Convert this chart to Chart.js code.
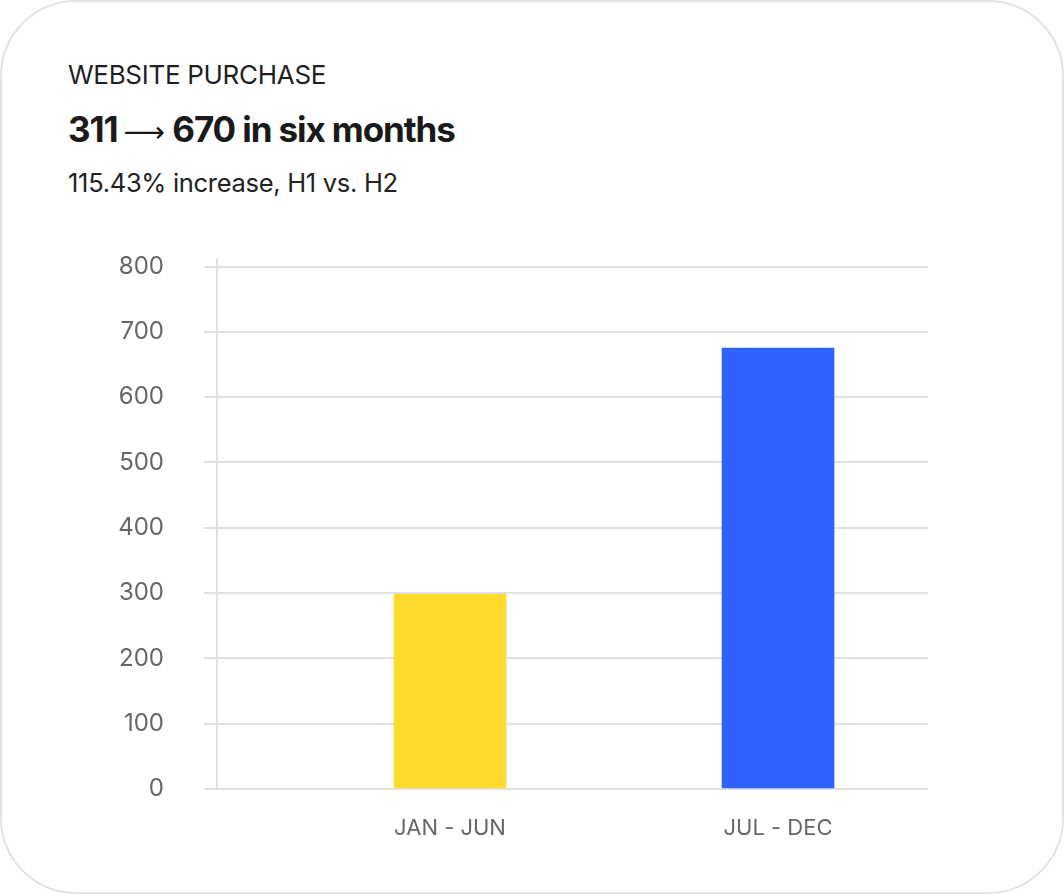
<!DOCTYPE html>
<html>
<head>
<meta charset="utf-8">
<script src="https://cdn.jsdelivr.net/npm/chart.js@4.4.0/dist/chart.umd.min.js"></script>
<style>
  html, body { margin: 0; padding: 0; background: #fff; }
  body { width: 1064px; height: 894px; position: relative; overflow: hidden; font-family: Inter, "Noto Sans", sans-serif; }
  .card { position: absolute; left: 0; top: 0; width: 1060px; height: 890px; border: 2px solid #e3e3e3; border-radius: 76px; }
  .kicker { position: absolute; left: 68px; top: 62px; font-size: 26px; line-height: 1; color: #1f1f1f; letter-spacing: -0.3px; }
  .headline { position: absolute; left: 68px; top: 112px; font-size: 35px; line-height: 1; font-weight: 700; color: #1a1a1a; letter-spacing: -1.1px; }
  .headline .arrow { font-family: "DejaVu Sans", sans-serif; font-weight: 400; font-size: 29px; letter-spacing: 0; margin-left: 6px; }
  .sub { position: absolute; left: 68px; top: 170px; font-size: 25.5px; line-height: 1; color: #222; letter-spacing: -0.3px; }
  #chart { position: absolute; left: 0; top: 0; }
</style>
</head>
<body>
<div class="card"></div>
<div class="kicker">WEBSITE PURCHASE</div>
<div class="headline">311<span class="arrow">⟶</span> 670 in six months</div>
<div class="sub">115.43% increase, H1 vs. H2</div>
<canvas id="chart" width="1064" height="894"></canvas>
<script>
const categories = ['JAN - JUN', 'JUL - DEC'];
const purchases = [298, 675];
const barColors = ['#FEDB2C', '#2F63FF'];
const yTicks = [0, 100, 200, 300, 400, 500, 600, 700, 800];

const gridColor = '#e0e0e0';
const tickColor = '#666666';

const ctx = document.getElementById('chart').getContext('2d');
new Chart(ctx, {
  type: 'bar',
  data: {
    datasets: [
      {
        label: 'Website purchase',
        data: purchases.map((v, i) => ({ x: i + 1, y: v })),
        backgroundColor: barColors,
        borderWidth: 0,
        barThickness: 112,
      },
    ],
  },
  options: {
    responsive: false,
    animation: false,
    layout: { padding: { left: 0, top: 260, right: 136, bottom: 45 } },
    plugins: { legend: { display: false }, tooltip: { enabled: false } },
    scales: {
      x: {
        type: 'linear',
        offset: false,
        min: 0.2896,
        max: 2.4573,
        grid: { display: false, drawTicks: false },
        border: { display: false },
        afterBuildTicks: (scale) => {
          scale.ticks = categories.map((c, i) => ({ value: i + 1 }));
        },
        afterFit: (scale) => { scale.height = 60; },
        ticks: {
          callback: (v) => categories[v - 1],
          autoSkip: false,
          maxRotation: 0,
          padding: 26,
          color: tickColor,
          font: { family: 'Inter', size: 22 },
        },
      },
      y: {
        min: 0,
        max: 810,
        grid: { color: gridColor, lineWidth: 2, tickLength: 13 },
        border: { display: true, color: gridColor, width: 2 },
        afterBuildTicks: (scale) => {
          scale.ticks = yTicks.map((v) => ({ value: v }));
        },
        afterFit: (scale) => { scale.width = 217; },
        ticks: {
          padding: 40,
          color: tickColor,
          font: { family: 'Inter', size: 24 },
        },
      },
    },
  },
});
</script>
</body>
</html>
